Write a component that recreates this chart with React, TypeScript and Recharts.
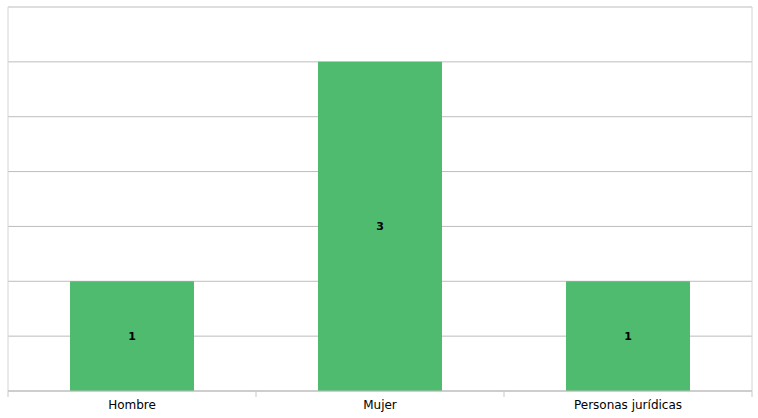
import React from 'react';
import {
  BarChart,
  Bar,
  XAxis,
  YAxis,
  CartesianGrid,
  LabelList,
} from 'recharts';

const categories = ['Hombre', 'Mujer', 'Personas jurídicas'];
const counts = [1, 3, 1];
const yTicks = [0, 0.5, 1, 1.5, 2, 2.5, 3, 3.5];

const data = categories.map((name, i) => ({ name, value: counts[i] }));

const WIDTH = 758;
const HEIGHT = 418;
const X_AXIS_H = 27;
const MARGIN = { top: 7, right: 6, bottom: 0, left: 8 };
const BAND = (WIDTH - MARGIN.left - MARGIN.right) / categories.length;
const AXIS_Y = HEIGHT - X_AXIS_H;
const FONT = '"DejaVu Sans", Verdana, sans-serif';

const CategoryTick = (props: any) => {
  const { x, y, payload, index } = props;
  const last = index === categories.length - 1;
  return (
    <g>
      <line x1={x - BAND / 2} y1={AXIS_Y} x2={x - BAND / 2} y2={AXIS_Y + 6} stroke="#c8c8c8" />
      {last && (
        <line x1={x + BAND / 2} y1={AXIS_Y} x2={x + BAND / 2} y2={AXIS_Y + 6} stroke="#c8c8c8" />
      )}
      <text
        x={x}
        y={y + 10}
        textAnchor="middle"
        fill="#000"
        fontSize={12}
        fontFamily={FONT}
      >
        {payload.value}
      </text>
    </g>
  );
};

export default function App() {
  return (
    <div style={{ position: 'absolute', left: 0, top: 0, background: '#fff' }}>
      <BarChart width={WIDTH} height={HEIGHT} data={data} margin={MARGIN} barCategoryGap="25%">
        <CartesianGrid yAxisId="left" stroke="#bdbdbd" vertical={false} />
        <CartesianGrid
          yAxisId="left"
          stroke="#d4d4d4"
          horizontal={false}
          verticalPoints={[MARGIN.left, WIDTH - MARGIN.right]}
        />
        <XAxis
          dataKey="name"
          axisLine={{ stroke: '#bdbdbd' }}
          tickLine={false}
          interval={0}
          tick={<CategoryTick />}
          height={X_AXIS_H}
        />
        <YAxis
          yAxisId="left"
          domain={[0, 3.5]}
          ticks={yTicks}
          hide
        />
        <Bar yAxisId="left" dataKey="value" fill="#4fbb6f" isAnimationActive={false}>
          <LabelList
            dataKey="value"
            position="center"
            fill="#000"
            fontSize={11}
            fontWeight="bold"
            fontFamily={FONT}
          />
        </Bar>
      </BarChart>
    </div>
  );
}
